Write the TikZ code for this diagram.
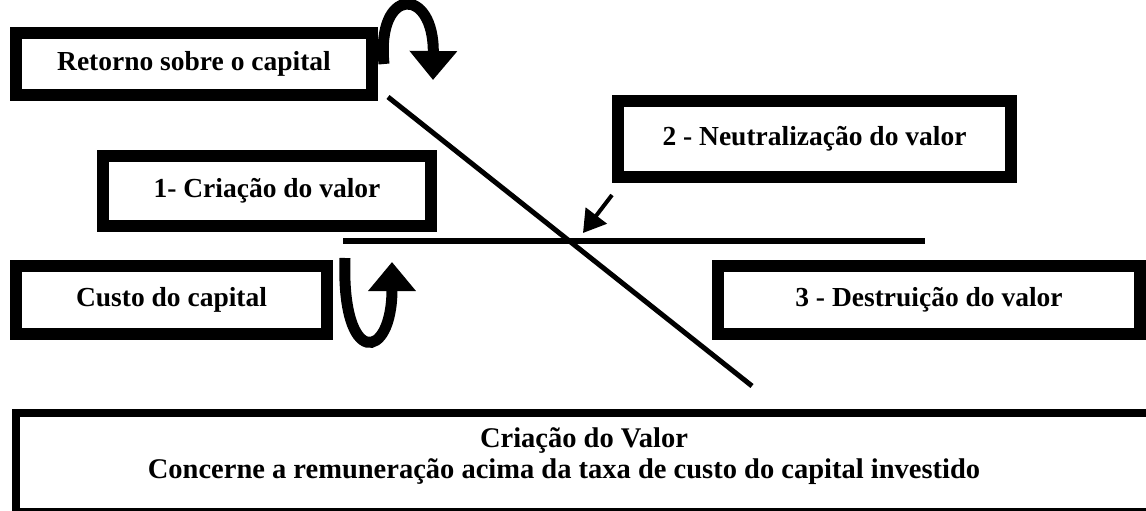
\documentclass[tikz,border=0pt]{standalone}
\usepackage{fontspec}
\setmainfont{Liberation Serif}
\usetikzlibrary{arrows.meta}

\begin{document}
\begin{tikzpicture}[x=1pt, y=-1pt,
    box/.style = {draw, line width=12pt, inner sep=0pt, font=\fontsize{27.5}{32}\selectfont\bfseries},
    curvearrow/.style = {line width=11pt, -{Triangle[length=29pt, width=46pt]}}]
    \useasboundingbox (0,0) rectangle (1146,511);
    \clip (0,0) rectangle (1146,511);

    \node[box, minimum width=356pt, minimum height=62pt] at (194, 64) (retorno) {Retorno sobre o capital};
    \node[box, minimum width=328pt, minimum height=70pt] at (267, 191) (criacao) {1- Criação do valor};
    \node[box, minimum width=393pt, minimum height=76pt] at (814.5, 139) (neutro) {2 - Neutralização do valor};
    \node[box, minimum width=311pt, minimum height=68pt] at (171.5, 300) (custo) {Custo do capital};
    \node[box, minimum width=422pt, minimum height=68pt] at (929, 300) (destruicao) {3 - Destruição do valor};
    \node[draw, line width=8pt, minimum width=1136pt, minimum height=99pt] at (584, 462.5) (valor) {};
    \node[font=\fontsize{28.5}{31}\selectfont\bfseries, align=center] at ([yshift=6pt]valor.center) (valortxt) {Criação do Valor\\Concerne a remuneração acima da taxa de custo do capital investido\hspace*{40pt}};

    \coordinate (r1) at (388, 97);
    \coordinate (r2) at (752, 386);
    \coordinate (c1) at (343, 241);
    \coordinate (c2) at (925, 241);
    \draw [line width=5pt] (r1) -- (r2);
    \draw [line width=6pt] (c1) -- (c2);

    \draw [curvearrow] ([xshift=6pt]retorno.east) .. controls (376, -14) and (434, -14) .. (433, 80);
    \draw [curvearrow] ([shift={(12,-2)}]custo.north east) .. controls (341, 368) and (392, 362) .. (392, 262);
    \draw [line width=4pt, -{Triangle[length=22pt, width=26pt]}] ([shift={(0,12)}]neutro.south west) -- (583, 233);
\end{tikzpicture}
\end{document}
